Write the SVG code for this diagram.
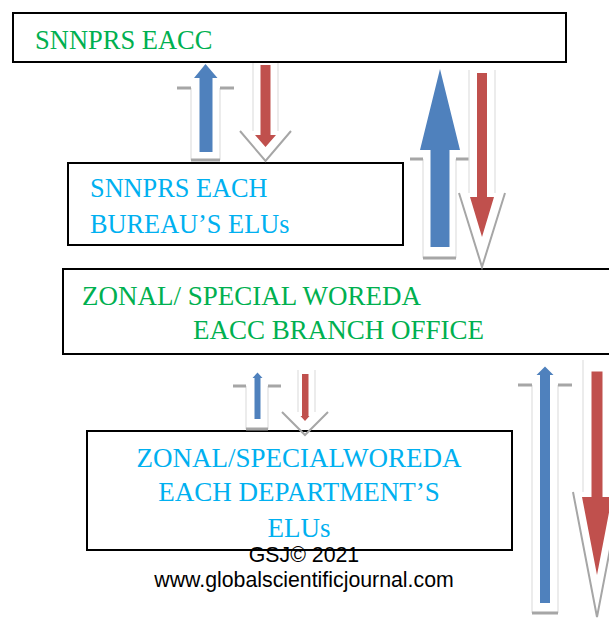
<svg xmlns="http://www.w3.org/2000/svg" width="609" height="618" viewBox="0 0 609 618">
<style>
.box{fill:#fff;stroke:#000;stroke-width:2}
.t{font-family:"Liberation Serif","Times New Roman",serif}
.g{fill:#00B050}
.c{fill:#00B0F0}
.blue{fill:#4F81BD}
.red{fill:#C0504D}
.faint{stroke:#E0E0E0;stroke-width:1.2;fill:none}
.sh{stroke:#A6A6A6;stroke-width:3;fill:none}
.v{stroke:#A6A6A6;stroke-width:2;fill:none}
.foot{font-family:"Liberation Sans",Arial,sans-serif;font-size:21.3px;fill:#000;text-anchor:middle}
</style>
<rect width="609" height="618" fill="#fff"/>
<g id="node-snnprs-eacc">
<rect class="box" x="13" y="13" width="553" height="49"/>
<text class="t g" x="35" y="49" font-size="26.5">SNNPRS EACC</text>
</g>
<g id="node-bureau-elus">
<rect class="box" x="68" y="163" width="335" height="82"/>
<text class="t c" x="90" y="197" font-size="26.3">SNNPRS EACH</text>
<text class="t c" x="90" y="233" font-size="26.3">BUREAU’S ELUs</text>
</g>
<g id="node-zonal-branch">
<rect class="box" x="63" y="269" width="560" height="85"/>
<text class="t g" x="82" y="305" font-size="27">ZONAL/ SPECIAL WOREDA</text>
<text class="t g" x="193" y="339" font-size="27">EACC BRANCH OFFICE</text>
</g>
<g id="node-zonal-department-elus">
<rect class="box" x="87" y="431" width="425" height="119"/>
<text class="t c" x="299" y="467" font-size="27" text-anchor="middle">ZONAL/SPECIALWOREDA</text>
<text class="t c" x="299" y="501" font-size="27" text-anchor="middle">EACH DEPARTMENT’S</text>
<text class="t c" x="299" y="537" font-size="27" text-anchor="middle">ELUs</text>
</g>
<g id="connectors">
<!-- pair 1 -->
<line class="faint" x1="191" y1="88" x2="191" y2="160"/>
<line class="faint" x1="220" y1="88" x2="220" y2="160"/>
<path class="sh" d="M177 88H191M220 88H234M191 160H220"/>
<polygon class="blue" points="205.5,64 217.5,78 212.5,78 212.5,152 199.5,152 199.5,78 194,78"/>
<line class="faint" x1="253" y1="63" x2="253" y2="131"/>
<line class="faint" x1="278" y1="63" x2="278" y2="131"/>
<polyline class="v" points="240,131 265.5,161 291,131"/>
<polygon class="red" points="260.5,65 270.5,65 270.5,135 276,135 265.5,147 255,135 260.5,135"/>
<!-- pair 2 -->
<line class="faint" x1="423" y1="159" x2="423" y2="258"/>
<line class="faint" x1="456" y1="159" x2="456" y2="258"/>
<path class="sh" d="M410 159H423M456 159H469M423 258H456"/>
<polygon class="blue" points="440,69 460,150 449.5,150 449.5,247 430.5,247 430.5,150 420,150"/>
<line class="faint" x1="469" y1="70" x2="469" y2="193"/>
<line class="faint" x1="495" y1="70" x2="495" y2="193"/>
<polyline class="v" points="459,193 482,267 505,193"/>
<polygon class="red" points="477,73 487,73 487,197 494,197 482,237 470,197 477,197"/>
<!-- pair 3 -->
<line class="faint" x1="246" y1="386" x2="246" y2="429"/>
<line class="faint" x1="268" y1="386" x2="268" y2="429"/>
<path class="sh" d="M233 386H246M268 386H281M246 429H268"/>
<polygon class="blue" points="257.5,372.5 262.5,378 260.5,378 260.5,419 254.5,419 254.5,378 252.5,378"/>
<line class="faint" x1="298" y1="370" x2="298" y2="412"/>
<line class="faint" x1="315" y1="370" x2="315" y2="412"/>
<polyline class="v" points="282,412 305,435 328,412"/>
<polygon class="red" points="302,374 308.5,374 308.5,416 309.5,416 305,421 300.5,416 302,416"/>
<!-- pair 4 -->
<line class="faint" x1="532" y1="385" x2="532" y2="613"/>
<line class="faint" x1="558" y1="385" x2="558" y2="613"/>
<path class="sh" d="M518 385H532M558 385H572M532 613H558"/>
<polygon class="blue" points="545,366.5 553.5,375 550,375 550,603 540,603 540,375 536.5,375"/>
<line class="faint" x1="583" y1="360" x2="583" y2="492"/>
<polyline class="v" points="573,492 597,617 621,492"/>
<polygon class="red" points="591.5,371.5 602.5,371.5 602.5,497 612,497 597,575 582,497 591.5,497"/>
</g>
<g id="footer">
<text class="foot" x="304" y="562">GSJ© 2021</text>
<text class="foot" x="304" y="587">www.globalscientificjournal.com</text>
</g>
</svg>
